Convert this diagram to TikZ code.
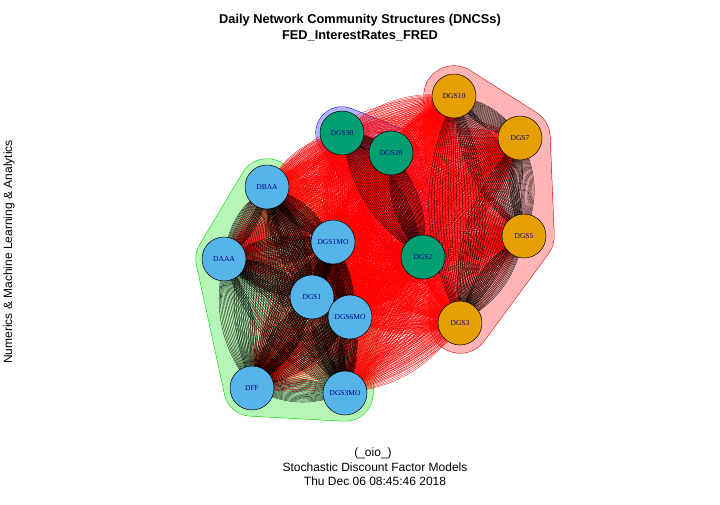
\documentclass[tikz,border=0pt]{standalone}
\usepackage{fontspec}
\setmainfont{Liberation Sans}
\newfontfamily\vertfont{Liberation Serif}
\pgfdeclarelayer{hull}
\pgfdeclarelayer{edges}
\pgfsetlayers{hull,edges,main}
\definecolor{skyb}{RGB}{86,180,233}
\definecolor{bluegreen}{RGB}{0,158,115}
\definecolor{amber}{RGB}{230,159,0}
\definecolor{labelblue}{RGB}{0,0,139}
\definecolor{hullgreen}{RGB}{181,245,181}
\definecolor{hullred}{RGB}{255,181,181}
\definecolor{hullblue}{RGB}{181,181,255}
\tikzset{
    %Define style for vertices
    sirkel/.style={
           circle,
           draw=black,
           line width=0.5pt,
           minimum size=44pt,
           inner sep=0pt,
           text=labelblue,
           font=\vertfont\fontsize{7.5}{8}\selectfont},
    % Define edge styles
    kant/.style={draw=black, line width=0.3pt},
    kryss/.style={draw=red, line width=0.3pt},
    % Define hull style
    skall/.style={line join=round, line width=56pt}
}

\begin{document}
\begin{tikzpicture}[x=1pt, y=-1pt]
  \useasboundingbox (0,0) rectangle (720,504);
  % vertices
  \node[sirkel, fill=amber] (DGS10) at (454,96) {DGS10};
  \node[sirkel, fill=amber] (DGS7) at (520,138) {DGS7};
  \node[sirkel, fill=amber] (DGS5) at (524,236) {DGS5};
  \node[sirkel, fill=amber] (DGS3) at (460,323) {DGS3};
  \node[sirkel, fill=bluegreen] (DGS2) at (423,257) {DGS2};
  \node[sirkel, fill=bluegreen] (DGS30) at (342,133) {DGS30};
  \node[sirkel, fill=bluegreen] (DGS20) at (391,153) {DGS20};
  \node[sirkel, fill=skyb] (DBAA) at (267,187) {DBAA};
  \node[sirkel, fill=skyb] (DGS1MO) at (333,242) {DGS1MO};
  \node[sirkel, fill=skyb] (DAAA) at (224,259) {DAAA};
  \node[sirkel, fill=skyb] (DGS1) at (312,297) {DGS1};
  \node[sirkel, fill=skyb] (DGS6MO) at (350,317) {DGS6MO};
  \node[sirkel, fill=skyb] (DFF) at (252,388) {DFF};
  \node[sirkel, fill=skyb] (DGS3MO) at (345,393) {DGS3MO};
  % titles
  \node[font=\bfseries\fontsize{12.8}{14}\selectfont] (title) at (360,20) {Daily Network Community Structures (DNCSs)};
  \node[font=\bfseries\fontsize{12.8}{14}\selectfont] (subtitle) at (360,36) {FED\_InterestRates\_FRED};
  \node[font=\fontsize{12}{13}\selectfont] (oio) at (373,453) {(\_oio\_)};
  \node[font=\fontsize{12}{13}\selectfont] (model) at (375,467) {Stochastic Discount Factor Models};
  \node[font=\fontsize{12}{13}\selectfont] (stamp) at (375,481) {Thu Dec 06 08:45:46 2018};
  \node[rotate=90, font=\fontsize{12}{13}\selectfont] (ylab) at (9,252) {Numerics \& Machine Learning \& Analytics};
  % community hulls
  \begin{pgfonlayer}{hull}
    \path[fill=white] (0,0) rectangle (720,504);
    \draw[skall, line width=57pt, draw=green!85!black] (DBAA.center) -- (DGS1MO.center) -- (DGS6MO.center) -- (DGS3MO.center) -- (DFF.center) -- (DAAA.center) -- cycle;
    \draw[skall, draw=hullgreen, fill=hullgreen] (DBAA.center) -- (DGS1MO.center) -- (DGS6MO.center) -- (DGS3MO.center) -- (DFF.center) -- (DAAA.center) -- cycle;
    \draw[skall, line width=61pt, draw=red!85!black] (DGS10.center) -- (DGS7.center) -- (DGS5.center) -- (DGS3.center) -- cycle;
    \draw[skall, line width=60pt, draw=hullred, fill=hullred] (DGS10.center) -- (DGS7.center) -- (DGS5.center) -- (DGS3.center) -- cycle;
    \draw[skall, line width=53pt, draw=blue] (DGS30.center) -- (DGS20.center) -- (DGS2.center) -- cycle;
    \draw[skall, line width=52pt, draw=hullblue, fill=hullblue] (DGS30.center) -- (DGS20.center) -- (DGS2.center) -- cycle;
  \end{pgfonlayer}
  % edges
  \begin{pgfonlayer}{edges}
    \foreach \a in {DFF,DGS3MO,DGS6MO,DGS1,DGS1MO,DAAA,DBAA} {
      \foreach \b in {DGS2,DGS20,DGS30,DGS3,DGS5,DGS7,DGS10} {
        \foreach \k in {-25,-22.5,...,25} {\draw[kryss] (\a.center) to[bend left=\k] (\b.center);}}}
    \foreach \a in {DGS2,DGS20,DGS30} {
      \foreach \b in {DGS3,DGS5,DGS7,DGS10} {
        \foreach \k in {-25,-22.5,...,25} {\draw[kryss] (\a.center) to[bend left=\k] (\b.center);}}}
    \foreach \a [count=\i] in {DFF,DGS3MO,DGS6MO,DGS1,DGS1MO,DAAA,DBAA} {
      \foreach \b [count=\j] in {DFF,DGS3MO,DGS6MO,DGS1,DGS1MO,DAAA,DBAA} {
        \ifnum\j>\i
          \foreach \k in {-25,-22.5,...,25} {\draw[kant] (\a.center) to[bend left=\k] (\b.center);}
        \fi}}
    \foreach \a [count=\i] in {DGS3,DGS5,DGS7,DGS10} {
      \foreach \b [count=\j] in {DGS3,DGS5,DGS7,DGS10} {
        \ifnum\j>\i
          \foreach \k in {-25,-22.5,...,25} {\draw[kant] (\a.center) to[bend left=\k] (\b.center);}
        \fi}}
    \foreach \a [count=\i] in {DGS2,DGS20,DGS30} {
      \foreach \b [count=\j] in {DGS2,DGS20,DGS30} {
        \ifnum\j>\i
          \foreach \k in {-25,-22.5,...,25} {\draw[kant] (\a.center) to[bend left=\k] (\b.center);}
        \fi}}
  \end{pgfonlayer}
\end{tikzpicture}
\end{document}
